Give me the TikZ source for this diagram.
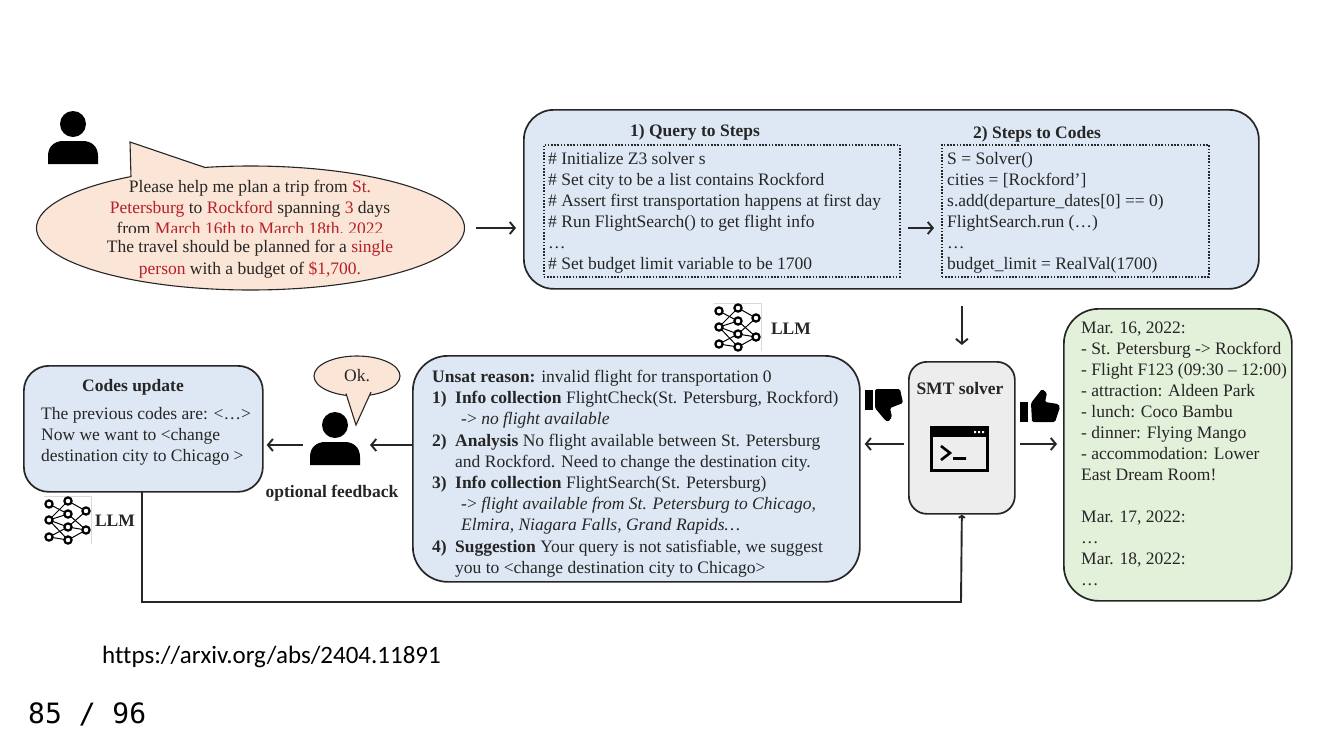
\documentclass[tikz,border=0pt]{standalone}
\usepackage{fontspec}
\setmainfont{Liberation Serif}
\newfontfamily\urlfont[Ligatures=NoCommon]{Carlito}
\newfontfamily\pagefont{DejaVu Sans Mono}
\usetikzlibrary{shapes.geometric,arrows.meta}
\definecolor{boxblue}{HTML}{DEE8F5}
\definecolor{boxgreen}{HTML}{E3F0DA}
\definecolor{boxgrey}{HTML}{EDEDED}
\definecolor{boxpeach}{HTML}{FBE5D6}
\definecolor{inkred}{HTML}{B5202A}
\definecolor{ink}{HTML}{262626}
\newcommand{\hl}[1]{\textcolor{inkred}{#1}}
\tikzset{
  panel/.style={draw=ink,line width=1.7pt,anchor=north west,inner sep=0pt},
  speech/.style={draw=ink,line width=1.1pt,fill=boxpeach,ellipse,inner sep=0pt},
  steplist/.style={draw=ink,line width=1.6pt,dash pattern=on 1.6pt off 1.6pt,anchor=north west,inner sep=0pt},
  body/.style={text=ink,font=\fontsize{17.5}{21}\selectfont,align=left,anchor=north west,inner sep=0pt},
  head/.style={text=ink,font=\fontsize{17.5}{19}\selectfont\bfseries,inner sep=0pt},
  bubbleline/.style={text=ink,font=\fontsize{17.5}{21}\selectfont,inner sep=0pt},
  arr/.style={->,>={Straight Barb[length=5pt,width=12pt]},line width=1.9pt,ink},
  usericon/.pic={
    \fill[black] (0,0) circle (13);
    \fill[black] (-25,40)--(-25,32) .. controls (-25,22) and (-18,17) .. (-10,17)--(10,17) .. controls (18,17) and (25,22) .. (25,32)--(25,40)--cycle;
  },
  llmicon/.pic={
    \draw[black!15,line width=.6pt] (0,0)--(47,0)--(47,48);
    \foreach \a/\b in {8/18,24/5,24/18,24/31,24/44,41/31,41/44}
      \draw[black,line width=1pt] (5,\a)--(24,\b);
    \foreach \b/\c in {5/15,18/34,31/15,31/34,44/34}
      \draw[black,line width=1pt] (24,\b)--(42,\c);
    \foreach \p/\q in {5/8,5/24,5/41,24/5,24/18,24/31,24/44,42/15,42/34}
      \draw[black,line width=2.2pt,fill=white] (\p,\q) circle (3.6);
  }
}
\begin{document}
\begin{tikzpicture}[x=1pt,y=-1pt]
\useasboundingbox (0,0) rectangle (1334,750);
\pic at (73,124) {usericon};
\node[speech,minimum width=428pt,minimum height=124pt] (bubble) at (250.5,228) {};
\fill[boxpeach] (131,180)--(130,142)--(205,167)--(200,170)--cycle;
\draw[ink,line width=1.1pt] (131,177)--(130,142)--(205,167.5);
\node[bubbleline,align=center] (ask) at (250,209) {Please help me plan a trip from \hl{St.}\\\hl{Petersburg} to \hl{Rockford} spanning \hl{3} days\\from \hl{March 16th to March 18th, 2022}};
\node[bubbleline,fill=boxpeach,minimum width=300pt,minimum height=20pt] (travel) at (250,243) {};
\node[bubbleline] (single) at (250,248) {The travel should be planned for a \hl{single}};
\node[bubbleline] (budget) at (250,270) {\hl{person} with a budget of \hl{\$1,700.}};
\node[panel,fill=boxblue,minimum width=735pt,minimum height=179pt,rounded corners=30pt] (query) at (523,109) {};
\node[head] (querytitle) at (695,132) {1) Query to Steps};
\node[head] (codetitle) at (1037,134) {2) Steps to Codes};
\node[steplist,minimum width=356pt,minimum height=132pt] (steps) at (543,144) {};
\node[steplist,minimum width=267pt,minimum height=132pt] (codes) at (941,144) {};
\node[body] (stepstext) at (548,152) {\# Initialize Z3 solver s\\\# Set city to be a list contains Rockford\\\# Assert first transportation happens at first day\\\# Run FlightSearch() to get flight info\\\dots\\\# Set budget limit variable to be 1700};
\node[body] (codestext) at (947,152) {S = Solver()\\cities = [Rockford’]\\s.add(departure\_dates[0] == 0)\\FlightSearch.run (\dots)\\\dots\\budget\_limit = RealVal(1700)};
\node[panel,fill=boxgrey,minimum width=106pt,minimum height=152pt,rounded corners=18pt] (smt) at (908,361) {};
\node[head] (smttitle) at (960,389) {SMT solver};
\fill[black] (930,426) rectangle (989,437);
\draw[black,line width=3pt] (931.5,430) rectangle (987.5,470.5);
\fill[white] (974,431) rectangle (976,433) (978,431) rectangle (980,433) (982,431) rectangle (984,433);
\draw[black,line width=2.6pt] (941,446)--(950,453)--(941,460) (953,458.5)--(966,458.5);
\node[panel,fill=boxgreen,minimum width=228pt,minimum height=292pt,rounded corners=35pt] (result) at (1063,308) {};
\node[body] (resulttext) at (1081,322) {Mar. 16, 2022:\\- St. Petersburg -> Rockford\\- Flight F123 (09:30 -- 12:00)\\- attraction: Aldeen Park\\- lunch: Coco Bambu\\- dinner: Flying Mango\\- accommodation: Lower\\East Dream Room!\\[21pt]Mar. 17, 2022:\\\dots\\Mar. 18, 2022:\\\dots};
\node[panel,fill=boxblue,minimum width=447pt,minimum height=226pt,rounded corners=35pt] (unsat) at (412,355) {};
\node[body,font=\fontsize{17.5}{21.2}\selectfont] (unsattext) at (432,370) {\textbf{Unsat reason:} invalid flight for transportation 0\\\makebox[23pt][l]{\textbf{1)}}\textbf{Info collection} FlightCheck(St. Petersburg, Rockford)\\\hspace*{29pt}-> \textit{no flight available}\\\makebox[23pt][l]{\textbf{2)}}\textbf{Analysis} No flight available between St. Petersburg\\\hspace*{23pt}and Rockford. Need to change the destination city.\\\makebox[23pt][l]{\textbf{3)}}\textbf{Info collection} FlightSearch(St. Petersburg)\\\hspace*{29pt}-> \textit{flight available from St. Petersburg to Chicago,}\\\hspace*{29pt}\textit{Elmira, Niagara Falls, Grand Rapids\dots}\\\makebox[23pt][l]{\textbf{4)}}\textbf{Suggestion} Your query is not satisfiable, we suggest\\\hspace*{23pt}you to <change destination city to Chicago>};
\node[panel,fill=boxblue,minimum width=239pt,minimum height=126pt,rounded corners=25pt] (update) at (23,365) {};
\node[head] (updatetitle) at (133,387) {Codes update};
\node[body] (updatetext) at (41,407) {The previous codes are: <\dots>\\Now we want to <change\\destination city to Chicago >};
\pic at (335,425) {usericon};
\coordinate (feedback) at (335,445);
\node[speech,minimum width=86pt,minimum height=40pt] (ok) at (357,376) {};
\fill[boxpeach] (346,393)--(356,425)--(371,392)--(360,388)--cycle;
\draw[ink,line width=1.1pt] (346,393.5)--(356,425)--(371,392);
\node[bubbleline] (oktext) at (357,376) {Ok.};
\node[head] (optional) at (332,493) {optional feedback};
\pic at (714,303) {llmicon};
\node[head] (llmtop) at (791,329) {LLM};
\pic at (44,496) {llmicon};
\node[head] (llmleft) at (115,521) {LLM};
\fill[black] (1020,402) rectangle (1028,422);
\fill[black,rounded corners=1.5pt] (1031,403)--(1042,389)--(1047,393)--(1045,402)--(1058,404)--(1060,407)--(1055,422)--(1032,422)--cycle;
\fill[black] (865,390) rectangle (873,410);
\fill[black,rounded corners=1.5pt] (875,389)--(900,389)--(903,403)--(890,408)--(892,417)--(888,422)--(885,420)--(875,408)--cycle;
\draw[arr,shorten <=11pt,shorten >=7pt] (bubble.east)--(bubble.east -| query.west);
\draw[arr,shorten <=7pt,shorten >=7pt] (steps.east |- 0,228)--(codes.west |- 0,228);
\draw[arr,shorten <=16pt,shorten >=16pt] (query.south -| smt.north)--(smt.north);
\draw[arr,shorten <=4pt,shorten >=4pt] (smt.west |- 0,444)--(unsat.east |- 0,444);
\draw[arr,shorten <=4pt,shorten >=6pt] (smt.east |- 0,444)--(result.west |- 0,444);
\draw[arr,shorten >=35pt] (unsat.west |- feedback)--(feedback);
\draw[arr,shorten <=32pt,shorten >=3pt] (feedback)--(update.east |- feedback);
\draw[ink,line width=1.9pt,-{Straight Barb[length=2pt,width=6pt]}] (142,491)--(142,602)--(961,602)--(smt.south);
\node[text=black,font=\urlfont\fontsize{25}{28}\selectfont,anchor=west,inner sep=0pt] (link) at (102,657) {https://arxiv.org/abs/2404.11891};
\node[text=black,font=\pagefont\fontsize{28}{32}\selectfont,anchor=west,inner sep=0pt] (page) at (28,714) {85 / 96};
\end{tikzpicture}
\end{document}
